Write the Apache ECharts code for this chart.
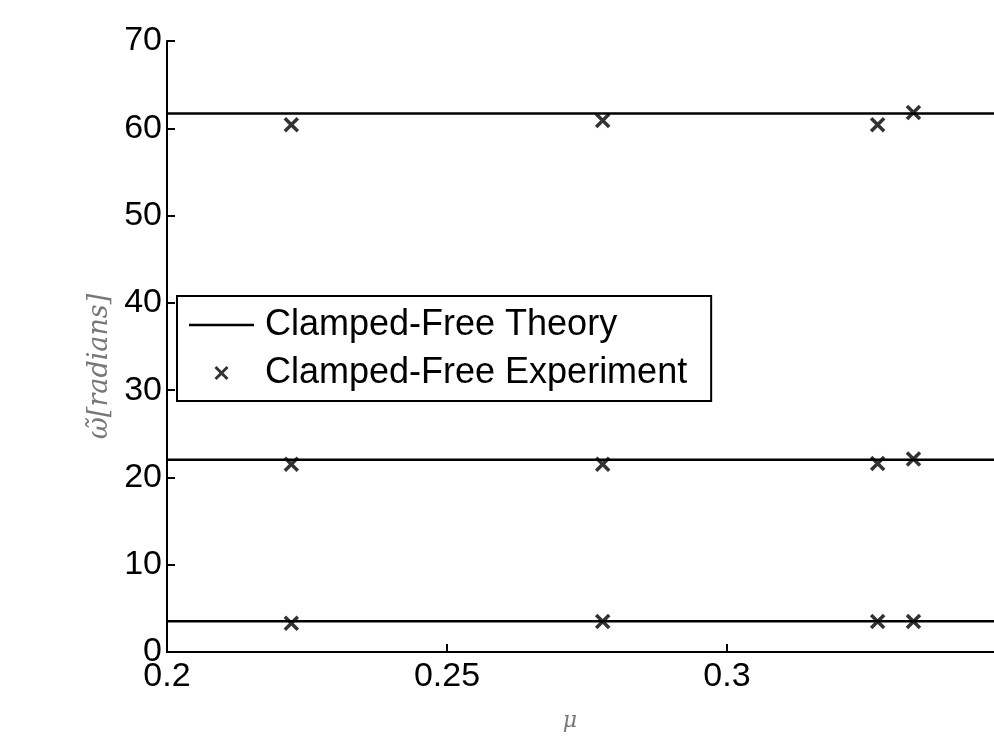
<!DOCTYPE html>
<html>
<head>
<meta charset="utf-8">
<script src="https://cdn.jsdelivr.net/npm/echarts@6/dist/echarts.min.js"></script>
<style>
html,body{margin:0;padding:0;background:#fff;}
#c{width:994px;height:736px;}
</style>
</head>
<body>
<div id="c"></div>
<script>
// ---- data ----
var theoryMu = [0.2, 0.35];
var theoryMode1 = 3.52;
var theoryMode2 = 22.03;
var theoryMode3 = 61.7;
var expMu = [0.2222, 0.2778, 0.3269, 0.3333];
var expMode1 = [3.3, 3.5, 3.5, 3.5];
var expMode2 = [21.5, 21.5, 21.6, 22.1];
var expMode3 = [60.4, 60.9, 60.4, 61.8];
var xTicks = [0.2, 0.25, 0.3, 0.35];
var yTicks = [0, 10, 20, 30, 40, 50, 60, 70];

var theoryName = 'Clamped-Free Theory';
var expName = 'Clamped-Free Experiment';

function theorySeries(v) {
  return {
    name: theoryName, type: 'line', symbol: 'none', showSymbol: false,
    lineStyle: {color: '#000', width: 2.5},
    itemStyle: {color: '#000'},
    data: theoryMu.map(function (m) { return [m, v]; }),
    z: 2
  };
}
var expData = [];
[expMode1, expMode2, expMode3].forEach(function (arr) {
  arr.forEach(function (v, i) { expData.push([expMu[i], v]); });
});

var xPath = 'path://M1,1L11,11M11,1L1,11';
var linePath = 'path://M0,0H100V4H0Z';

var chart = echarts.init(document.getElementById('c'), null, {renderer: 'canvas'});
chart.setOption({
  animation: false,
  backgroundColor: '#fff',
  grid: {left: 167, top: 41, width: 840, height: 611, containLabel: false, outerBoundsMode: 'none'},
  xAxis: {
    type: 'value', min: xTicks[0], max: xTicks[xTicks.length - 1], interval: 0.05,
    name: 'μ', nameLocation: 'middle', nameGap: 58,
    nameTextStyle: {fontFamily: 'DejaVu Serif', fontStyle: 'italic', fontSize: 22, color: '#777', padding: [0, 34, 0, 0]},
    axisLine: {show: true, lineStyle: {color: '#000', width: 2}},
    axisTick: {show: true, inside: true, length: 8, lineStyle: {color: '#000', width: 2}},
    axisLabel: {color: '#000', fontFamily: 'Liberation Sans', fontSize: 34, margin: 8, hideOverlap: false,
      showMaxLabel: false,
      formatter: function (v) { return String(+v.toFixed(2)); }},
    splitLine: {show: false}
  },
  yAxis: {
    type: 'value', min: yTicks[0], max: yTicks[yTicks.length - 1], interval: 10,
    name: 'ω̃[radians]', nameLocation: 'middle', nameGap: 54, nameRotate: 90,
    nameTextStyle: {fontFamily: 'DejaVu Serif', fontStyle: 'italic', fontSize: 27, color: '#777', padding: [0, 40, 0, 0]},
    axisLine: {show: true, lineStyle: {color: '#000', width: 2}},
    axisTick: {show: true, inside: true, length: 8, lineStyle: {color: '#000', width: 2}},
    axisLabel: {color: '#000', fontFamily: 'Liberation Sans', fontSize: 34, margin: 5, hideOverlap: false},
    splitLine: {show: false}
  },
  legend: {
    orient: 'vertical', left: 177, top: 296,
    backgroundColor: '#fff', borderColor: '#000', borderWidth: 2,
    padding: [11, 24, 10, 12],
    itemWidth: 65, itemHeight: 12, itemGap: 12,
    textStyle: {color: '#000', fontFamily: 'Liberation Sans', fontSize: 36, lineHeight: 36, padding: [0, 0, 0, 6]},
    data: [
      {name: theoryName, icon: linePath, itemStyle: {color: '#000', borderWidth: 0}},
      {name: expName, icon: xPath, itemStyle: {color: 'none', borderColor: '#000', borderWidth: 3}}
    ]
  },
  series: [
    theorySeries(theoryMode1),
    theorySeries(theoryMode2),
    theorySeries(theoryMode3),
    {
      name: expName, type: 'scatter', symbol: xPath, symbolSize: 13,
      itemStyle: {color: 'none', borderColor: '#000', borderWidth: 3.5},
      data: expData, z: 3
    }
  ]
});
</script>
</body>
</html>
